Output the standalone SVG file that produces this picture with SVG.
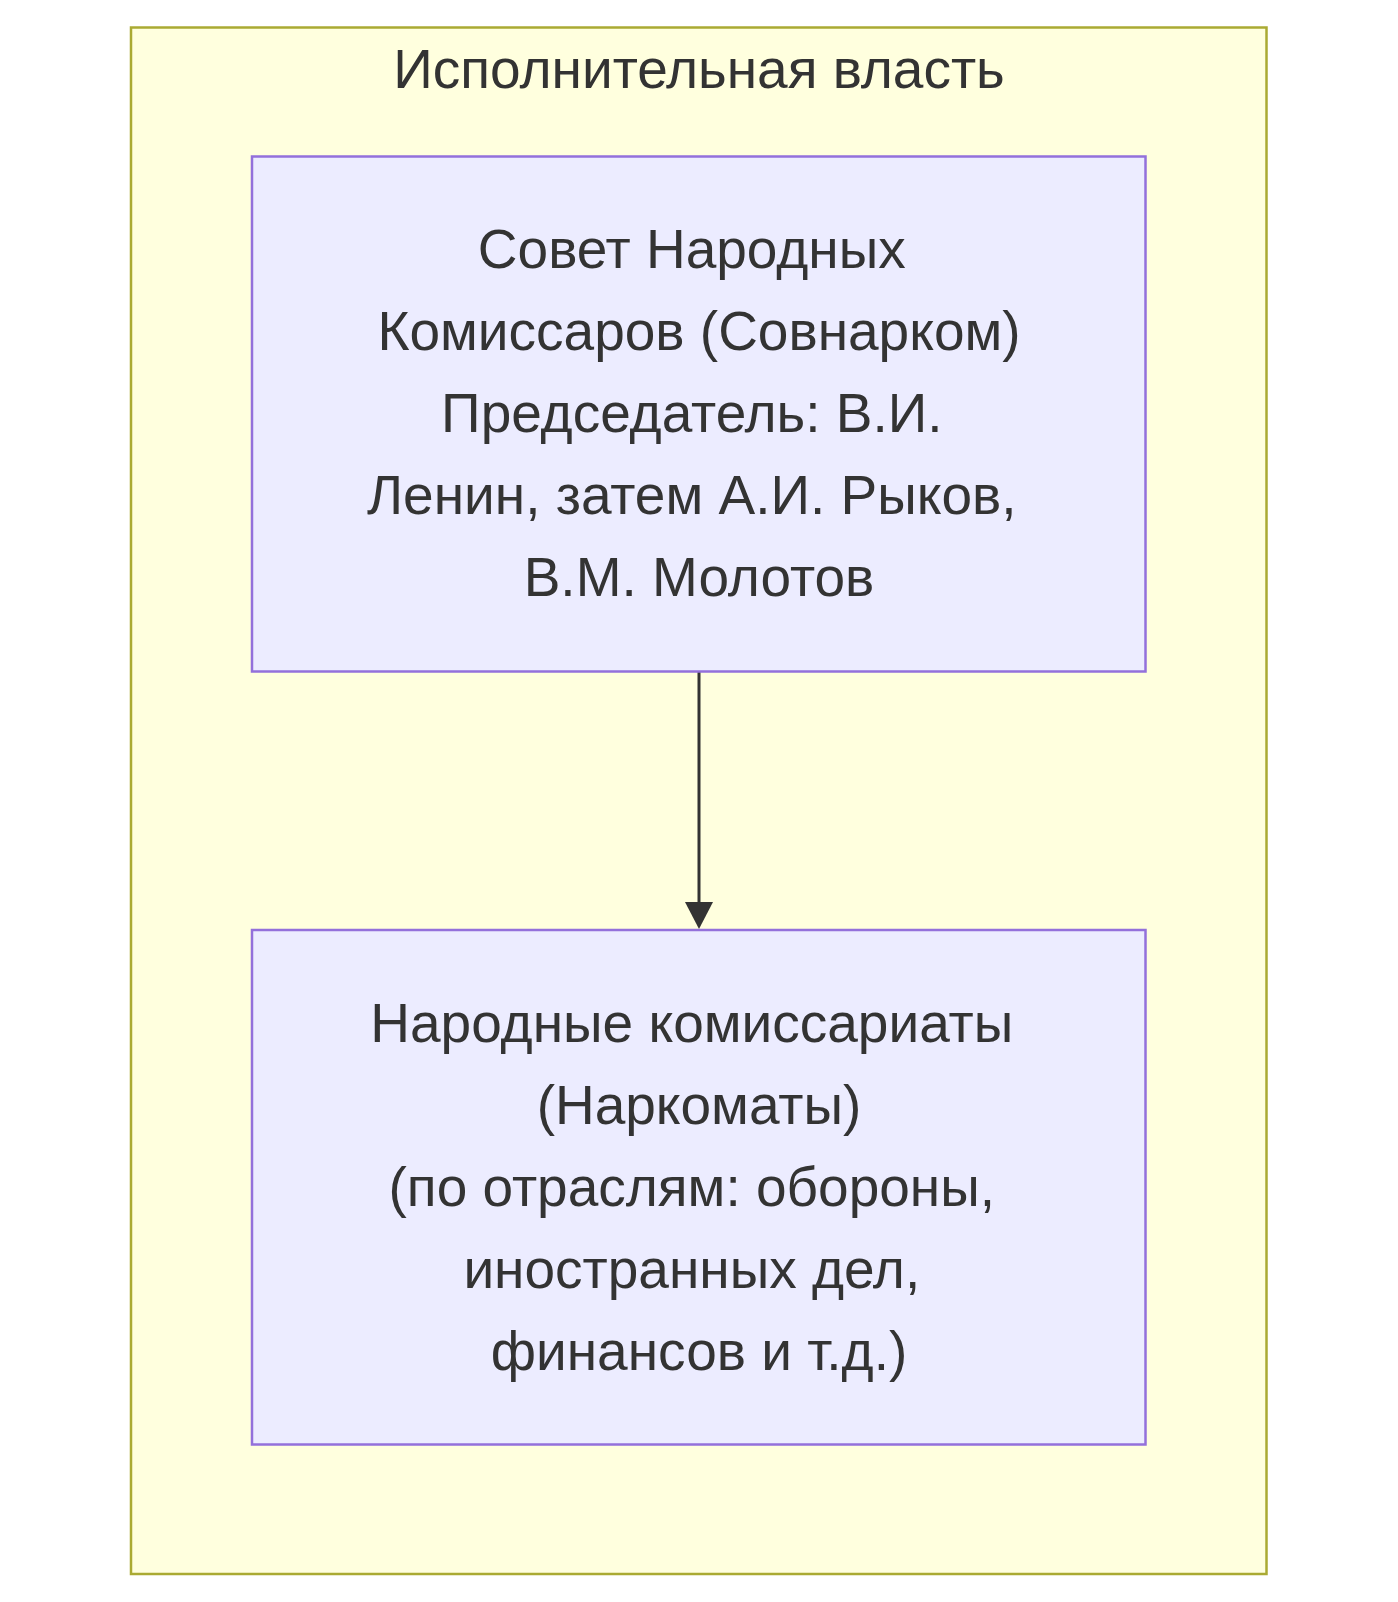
<svg xmlns="http://www.w3.org/2000/svg" width="1398" height="1602" viewBox="0 0 1398 1602">
<style>
.cluster{fill:#ffffde;stroke:#aaaa33;stroke-width:2.5}
.node{fill:#ececff;stroke:#9370db;stroke-width:2.5}
.t{font-family:"Liberation Sans",Arial,sans-serif;font-size:55px;fill:#333333;text-anchor:middle}
.edge{stroke:#333333;stroke-width:3;fill:none}
</style>
<rect width="1398" height="1602" fill="#ffffff"/>
<g id="cluster-exec">
<rect class="cluster" x="131" y="27.5" width="1135.5" height="1546.5"/>
<text class="t" x="699" y="88">Исполнительная власть</text>
</g>
<g id="edges">
<line class="edge" x1="699" y1="672" x2="699" y2="905"/>
<polygon points="685,902 713,902 699,929" fill="#333333"/>
</g>
<g id="node-sovnarkom">
<rect class="node" x="252" y="156.5" width="893.5" height="515"/>
<text class="t" x="691.8" y="268">Совет Народных</text>
<text class="t" x="699" y="350">Комиссаров (Совнарком)</text>
<text class="t" x="691.8" y="432">Председатель: В.И.</text>
<text class="t" x="691.8" y="514">Ленин, затем А.И. Рыков,</text>
<text class="t" x="699" y="596">В.М. Молотов</text>
</g>
<g id="node-narkomaty">
<rect class="node" x="252" y="930" width="893.5" height="514.5"/>
<text class="t" x="691.8" y="1042">Народные комиссариаты</text>
<text class="t" x="699" y="1124">(Наркоматы)</text>
<text class="t" x="691.8" y="1206">(по отраслям: обороны,</text>
<text class="t" x="691.8" y="1288">иностранных дел,</text>
<text class="t" x="699" y="1370">финансов и т.д.)</text>
</g>
</svg>
